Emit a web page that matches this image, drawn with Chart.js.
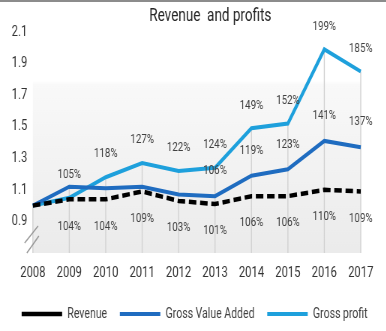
<!DOCTYPE html>
<html>
<head>
<meta charset="utf-8">
<script src="https://cdn.jsdelivr.net/npm/chart.js@4.4.1/dist/chart.umd.min.js"></script>
<style>
  html, body { margin: 0; padding: 0; background: #fff; overflow: hidden; }
  /* l'original est écrasé horizontalement : on dessine plus large puis on comprime */
  #revChart { display: block; transform: scaleX(0.75); transform-origin: 0 0; }
</style>
</head>
<body>
<canvas id="revChart" width="515" height="331"></canvas>
<script>
// Données
const years = ['2008', '2009', '2010', '2011', '2012', '2013', '2014', '2015', '2016', '2017'];
const revenue = [1.00, 1.04, 1.04, 1.09, 1.03, 1.01, 1.06, 1.06, 1.10, 1.09];
const grossValueAdded = [1.00, 1.12, 1.11, 1.12, 1.07, 1.06, 1.19, 1.23, 1.41, 1.37];
const grossProfit = [1.00, 1.05, 1.18, 1.27, 1.22, 1.24, 1.49, 1.52, 1.99, 1.85];
const yTicks = [0.9, 1.1, 1.3, 1.5, 1.7, 1.9, 2.1];

// quelles étiquettes sont visibles sur l'original
const showRevenue = [false, true, true, true, true, true, true, true, true, true];
const showGva = [false, false, false, false, false, true, true, true, true, true];
const showProfit = [false, true, true, true, true, true, true, true, true, true];

const FONT = 'Roboto, "Noto Sans", sans-serif';

// fond dégradé de la zone de tracé + lignes de projection
const plotDeco = {
  id: 'plotDeco',
  afterLayout(chart) {
    // titre décalé vers la droite comme sur l'original
    chart.titleBlock.left += 42;
  },
  beforeDatasetsDraw(chart) {
    const { ctx, chartArea: a } = chart;
    ctx.save();
    const g = ctx.createLinearGradient(0, a.top, 0, a.bottom);
    g.addColorStop(0, '#ffffff');
    g.addColorStop(0.22, '#ffffff');
    g.addColorStop(0.24, '#f9f9f9');
    g.addColorStop(1, '#ebebeb');
    ctx.fillStyle = g;
    ctx.fillRect(a.left, a.top, a.right - a.left, a.bottom - a.top);

    // lignes verticales depuis le point le plus haut
    ctx.strokeStyle = '#d2d2d2';
    ctx.lineWidth = 1.4;
    const metas = chart.data.datasets.map((d, i) => chart.getDatasetMeta(i));
    years.forEach((y, i) => {
      let top = a.bottom;
      metas.forEach(m => { if (m.data[i]) top = Math.min(top, m.data[i].y); });
      const x = metas[0].data[i].x;
      ctx.beginPath();
      ctx.moveTo(x, top);
      ctx.lineTo(x, a.bottom);
      ctx.stroke();
    });
    ctx.restore();
  },
  afterDraw(chart) {
    const { ctx, chartArea: a, width } = chart;
    ctx.save();
    // bordure du haut
    ctx.fillStyle = '#8c8c8c';
    ctx.fillRect(0, 0, width, 2);
    // coupure de l'axe
    ctx.strokeStyle = '#9a9a9a';
    ctx.lineWidth = 1.6;
    ctx.beginPath();
    ctx.moveTo(a.left - 11, a.bottom - 10); ctx.lineTo(a.left + 7, a.bottom - 27);
    ctx.moveTo(a.left - 8, a.bottom);       ctx.lineTo(a.left + 8, a.bottom - 17);
    ctx.stroke();
    ctx.restore();
  }
};

// étiquettes de valeurs en %
const valueLabels = {
  id: 'valueLabels',
  afterDatasetsDraw(chart) {
    const { ctx } = chart;
    ctx.save();
    ctx.font = '13px ' + FONT;
    ctx.fillStyle = '#404040';
    ctx.textAlign = 'center';
    ctx.textBaseline = 'middle';
    chart.data.datasets.forEach((ds, i) => {
      const meta = chart.getDatasetMeta(i);
      meta.data.forEach((pt, j) => {
        if (!ds.showLabel[j]) return;
        const txt = Math.round(ds.data[j] * 100) + '%';
        ctx.fillText(txt, pt.x, pt.y + ds.labelOffset);
      });
    });
    ctx.restore();
  }
};

const ctx = document.getElementById('revChart').getContext('2d');
new Chart(ctx, {
  type: 'line',
  data: {
    labels: years,
    datasets: [{
      label: 'Revenue',
      data: revenue,
      borderColor: '#000000',
      backgroundColor: '#000000',
      borderWidth: 4.5,
      borderDash: [10, 5],
      showLabel: showRevenue,
      labelOffset: 27
    }, {
      label: 'Gross Value Added',
      data: grossValueAdded,
      borderColor: '#1f6cc0',
      backgroundColor: '#1f6cc0',
      borderWidth: 4,
      showLabel: showGva,
      labelOffset: -25
    }, {
      label: 'Gross profit',
      data: grossProfit,
      borderColor: '#1ea0dc',
      backgroundColor: '#1ea0dc',
      borderWidth: 4,
      showLabel: showProfit,
      labelOffset: -23
    }]
  },
  options: {
    responsive: false,
    animation: false,
    devicePixelRatio: 1,
    elements: {
      point: { radius: 0, hoverRadius: 0 },
      line: { tension: 0, borderJoinStyle: 'miter' }
    },
    layout: { padding: { left: 8, right: 4, top: 0, bottom: 0 } },
    plugins: {
      title: {
        display: true,
        text: 'Revenue  and profits',
        color: '#262626',
        font: { family: FONT, size: 18, weight: 'normal' },
        padding: { top: 6, bottom: 4.4 }
      },
      legend: {
        position: 'bottom',
        labels: {
          usePointStyle: true,
          pointStyle: 'line',
          pointStyleWidth: 54,
          color: '#404040',
          padding: 17,
          font: { family: FONT, size: 14 }
        }
      },
      tooltip: { enabled: false }
    },
    scales: {
      x: {
        offset: false,
        grid: { display: false, drawTicks: false },
        border: { display: false },
        afterFit(scale) { scale.height = 37; },
        ticks: {
          color: '#333333',
          padding: 11,
          maxRotation: 0,
          autoSkip: false,
          font: { family: FONT, size: 15 }
        }
      },
      y: {
        min: 0.7,
        max: 2.1,
        grid: { display: false, drawTicks: false },
        border: { display: false },
        afterBuildTicks(scale) {
          scale.ticks = yTicks.map(v => ({ value: v }));
        },
        ticks: {
          color: '#333333',
          padding: 7.5,
          font: { family: FONT, size: 15 },
          callback: v => v.toFixed(1)
        }
      },
      // axe vide à droite : réserve la marge sans rétrécir la légende
      yRight: {
        position: 'right',
        grid: { display: false, drawTicks: false },
        border: { display: false },
        ticks: { display: false },
        afterFit(scale) { scale.width = 30; }
      }
    }
  },
  plugins: [plotDeco, valueLabels]
});
</script>
</body>
</html>
